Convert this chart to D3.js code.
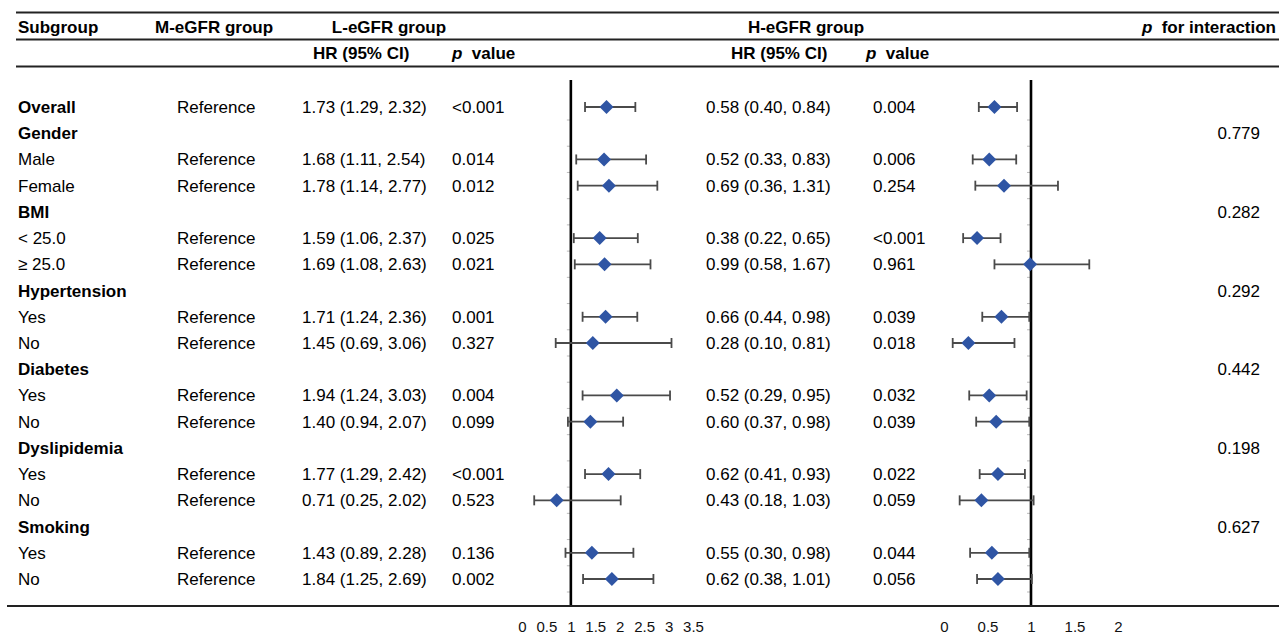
<html>
  <head>
    <meta charset="utf-8">
    <title>eGFR subgroup forest plot</title>
    <script src="https://cdn.jsdelivr.net/npm/d3@7"></script>
    <style type="text/css">
      body { margin: 0; background: #fff; }
      svg text { font-family: "Liberation Sans", Arial, sans-serif; font-size: 17px; fill: #000; }
      text.bold { font-weight: bold; }
      line.rule { stroke: #222; stroke-width: 1.8; }
      line.ref { stroke: #000; stroke-width: 2.6; }
      line.ci { stroke: #4a4a4a; stroke-width: 1.8; }
      path.diamond { fill: #2f55a4; }
    </style>
  </head>
  <body>
    <svg width="1279" height="635"></svg>
    <script>
      var subgroups = ['Overall', 'Gender', 'Male', 'Female', 'BMI', '< 25.0', '\u2265 25.0',
        'Hypertension', 'Yes', 'No', 'Diabetes', 'Yes', 'No', 'Dyslipidemia', 'Yes', 'No',
        'Smoking', 'Yes', 'No'];
      var boldRows = ['Overall', 'Gender', 'BMI', 'Hypertension', 'Diabetes', 'Dyslipidemia', 'Smoking'];

      var lowHR   = [1.73, null, 1.68, 1.78, null, 1.59, 1.69, null, 1.71, 1.45, null, 1.94, 1.40, null, 1.77, 0.71, null, 1.43, 1.84];
      var lowLo   = [1.29, null, 1.11, 1.14, null, 1.06, 1.08, null, 1.24, 0.69, null, 1.24, 0.94, null, 1.29, 0.25, null, 0.89, 1.25];
      var lowHi   = [2.32, null, 2.54, 2.77, null, 2.37, 2.63, null, 2.36, 3.06, null, 3.03, 2.07, null, 2.42, 2.02, null, 2.28, 2.69];
      var lowP    = ['<0.001', '', '0.014', '0.012', '', '0.025', '0.021', '', '0.001', '0.327', '', '0.004', '0.099', '', '<0.001', '0.523', '', '0.136', '0.002'];

      var highHR  = [0.58, null, 0.52, 0.69, null, 0.38, 0.99, null, 0.66, 0.28, null, 0.52, 0.60, null, 0.62, 0.43, null, 0.55, 0.62];
      var highLo  = [0.40, null, 0.33, 0.36, null, 0.22, 0.58, null, 0.44, 0.10, null, 0.29, 0.37, null, 0.41, 0.18, null, 0.30, 0.38];
      var highHi  = [0.84, null, 0.83, 1.31, null, 0.65, 1.67, null, 0.98, 0.81, null, 0.95, 0.98, null, 0.93, 1.03, null, 0.98, 1.01];
      var highP   = ['0.004', '', '0.006', '0.254', '', '<0.001', '0.961', '', '0.039', '0.018', '', '0.032', '0.039', '', '0.022', '0.059', '', '0.044', '0.056'];

      var interactionP = ['', '0.779', '', '', '0.282', '', '', '0.292', '', '', '0.442', '', '', '0.198', '', '', '0.627', '', ''];

      var lowTicks = [0, 0.5, 1, 1.5, 2, 2.5, 3, 3.5];
      var highTicks = [0, 0.5, 1, 1.5, 2];

      var rows = subgroups.map(function(name, i) {
        return {
          name: name, bold: boldRows.indexOf(name) >= 0,
          lHR: lowHR[i], lLo: lowLo[i], lHi: lowHi[i], lP: lowP[i],
          hHR: highHR[i], hLo: highLo[i], hHi: highHi[i], hP: highP[i],
          inter: interactionP[i]
        };
      });

      var svg = d3.select('svg');
      var y = d3.scaleLinear().domain([0, rows.length - 1]).range([107, 579]);
      var xL = d3.scaleLinear().domain([0, 3.5]).range([522, 693]);
      var xH = d3.scaleLinear().domain([0, 2]).range([944, 1118]);

      function fmt(hr, lo, hi) {
        return hr.toFixed(2) + ' (' + lo.toFixed(2) + ', ' + hi.toFixed(2) + ')';
      }

      // table rules
      [[16, 12.5], [16, 39.5], [16, 66.5], [7, 606]].forEach(function(r) {
        svg.append('line').attr('class', 'rule')
          .attr('x1', r[0]).attr('x2', 1279).attr('y1', r[1]).attr('y2', r[1]);
      });

      // header
      var head = svg.append('g');
      head.append('text').attr('class', 'bold').attr('x', 18).attr('y', 33).text('Subgroup');
      head.append('text').attr('class', 'bold').attr('x', 155).attr('y', 33).text('M-eGFR group');
      head.append('text').attr('class', 'bold').attr('x', 389).attr('y', 33).attr('text-anchor', 'middle').text('L-eGFR group');
      head.append('text').attr('class', 'bold').attr('x', 806).attr('y', 33).attr('text-anchor', 'middle').text('H-eGFR group');
      var pi = head.append('text').attr('class', 'bold').attr('x', 1276).attr('y', 33).attr('text-anchor', 'end')
        .attr('xml:space', 'preserve').style('white-space', 'pre');
      pi.append('tspan').attr('font-style', 'italic').text('p');
      pi.append('tspan').text('  for interaction');
      head.append('text').attr('class', 'bold').attr('x', 313).attr('y', 59).text('HR (95% CI)');
      head.append('text').attr('class', 'bold').attr('x', 731).attr('y', 59).text('HR (95% CI)');
      [452, 866].forEach(function(x) {
        var t = head.append('text').attr('class', 'bold').attr('x', x).attr('y', 59)
          .style('white-space', 'pre');
        t.append('tspan').attr('font-style', 'italic').text('p');
        t.append('tspan').text('  value');
      });

      // body rows
      var g = svg.selectAll('.row').data(rows).enter().append('g').attr('class', 'row')
        .attr('transform', function(d, i) { return 'translate(0,' + (y(i) + 6) + ')'; });
      g.append('text').attr('x', 18).attr('class', function(d) { return d.bold ? 'bold' : null; })
        .text(function(d) { return d.name; });
      var data = g.filter(function(d) { return d.lHR != null; });
      data.append('text').attr('x', 177).text('Reference');
      data.append('text').attr('x', 302).text(function(d) { return fmt(d.lHR, d.lLo, d.lHi); });
      data.append('text').attr('x', 452).text(function(d) { return d.lP; });
      data.append('text').attr('x', 706).text(function(d) { return fmt(d.hHR, d.hLo, d.hHi); });
      data.append('text').attr('x', 873).text(function(d) { return d.hP; });
      g.append('text').attr('x', 1260).attr('text-anchor', 'end').text(function(d) { return d.inter; });

      function forest(x, ticks, hr, lo, hi) {
        var p = svg.append('g');
        // faint row ticks on the reference line
        p.selectAll('.rt').data(rows).enter().append('line')
          .attr('x1', x(1) - 4).attr('x2', x(1))
          .attr('y1', function(d, i) { return y(i) + 13; }).attr('y2', function(d, i) { return y(i) + 13; })
          .attr('stroke', '#bbb').attr('stroke-width', 1);
        p.append('line').attr('class', 'ref')
          .attr('x1', x(1)).attr('x2', x(1)).attr('y1', 80).attr('y2', 605);
        var m = p.selectAll('.m').data(rows.filter(function(d) { return d[hr] != null; })).enter().append('g')
          .attr('transform', function(d) { return 'translate(0,' + y(rows.indexOf(d)) + ')'; });
        m.append('line').attr('class', 'ci')
          .attr('x1', function(d) { return x(d[lo]); }).attr('x2', function(d) { return x(d[hi]); });
        m.append('line').attr('class', 'ci')
          .attr('x1', function(d) { return x(d[lo]); }).attr('x2', function(d) { return x(d[lo]); })
          .attr('y1', -5).attr('y2', 5);
        m.append('line').attr('class', 'ci')
          .attr('x1', function(d) { return x(d[hi]); }).attr('x2', function(d) { return x(d[hi]); })
          .attr('y1', -5).attr('y2', 5);
        m.append('path').attr('class', 'diamond')
          .attr('d', d3.symbol().type(d3.symbolDiamond2).size(125))
          .attr('transform', function(d) { return 'translate(' + x(d[hr]) + ',0)'; });
        var ax = svg.append('g').attr('transform', 'translate(0,621)')
          .call(d3.axisBottom(x).tickValues(ticks).tickSize(0).tickPadding(0).tickFormat(d3.format('')));
        ax.select('.domain').remove();
        ax.selectAll('.tick text')
          .style('font-family', '"Liberation Sans Narrow", "Liberation Sans", sans-serif')
          .style('font-size', '15px').style('fill', '#111');
      }
      forest(xL, lowTicks, 'lHR', 'lLo', 'lHi');
      forest(xH, highTicks, 'hHR', 'hLo', 'hHi');
    </script>
  </body>
</html>
